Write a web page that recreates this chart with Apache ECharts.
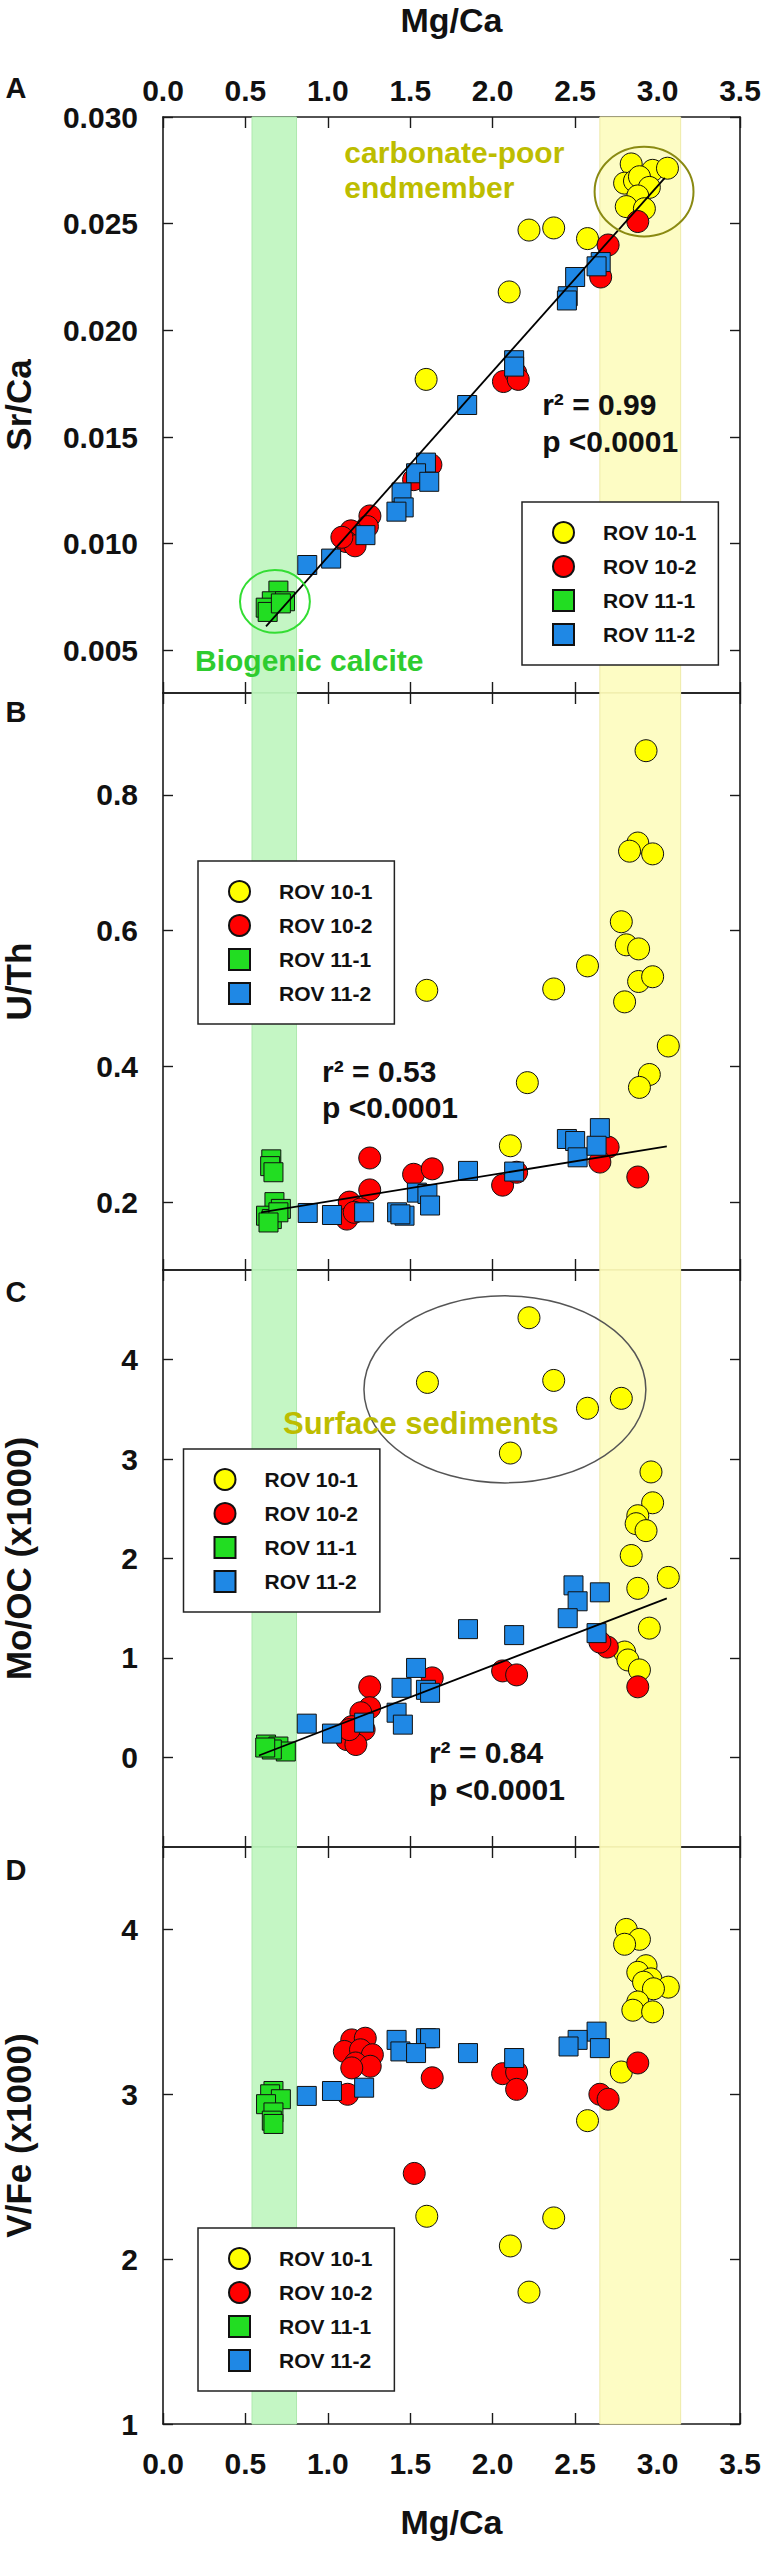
<!DOCTYPE html>
<html>
<head>
<meta charset="utf-8">
<title>Mg/Ca cross plots</title>
<script src="https://cdn.jsdelivr.net/npm/echarts@6.0.0/dist/echarts.min.js"></script>
<style>
html, body { margin: 0; padding: 0; background: #fff; overflow: hidden; }
#main { width: 766px; height: 2550px; }
</style>
</head>
<body>
<div id="main"></div>
<script>
// ---- data (Mg/Ca, ratio) ----
var seriesNames = ['ROV 10-1', 'ROV 10-2', 'ROV 11-1', 'ROV 11-2'];
var panelLetters = ['A', 'B', 'C', 'D'];
var panelNames = ['Sr/Ca', 'U/Th', 'Mo/OC (x1000)', 'V/Fe (x1000)'];
var xTicks = [0, 0.5, 1.0, 1.5, 2.0, 2.5, 3.0, 3.5];
var yTicksSrCa = [0.005, 0.010, 0.015, 0.020, 0.025, 0.030];
var yTicksUTh = [0.2, 0.4, 0.6, 0.8];
var yTicksMoOc = [0, 1, 2, 3, 4];
var yTicksVFe = [1, 2, 3, 4];

var srCa10_1 = [[2.22,0.0247],[2.37,0.0248],[2.575,0.0243],[2.10,0.0218],[1.596,0.0177],
  [2.84,0.0278],[2.97,0.0275],[3.06,0.0276],[2.80,0.0269],[2.86,0.0270],[2.89,0.0272],
  [2.95,0.0267],[2.88,0.0263],[2.81,0.0258],[2.92,0.0257]];
var srCa10_2 = [[2.88,0.0251],[2.70,0.0240],[2.655,0.0225],[2.065,0.0176],[2.14,0.0180],
  [2.155,0.0177],[1.625,0.0137],[1.52,0.0130],[1.255,0.0113],[1.24,0.0108],[1.14,0.0106],
  [1.11,0.0101],[1.165,0.0099],[1.085,0.0103]];
var srCa11_1 = [[0.70,0.0078],[0.66,0.0073],[0.623,0.0070],[0.74,0.0073],[0.635,0.0068],[0.715,0.0072]];
var srCa11_2 = [[2.655,0.0232],[2.63,0.0230],[2.50,0.0225],[2.455,0.0216],[2.45,0.0214],
  [2.13,0.0186],[2.13,0.0183],[1.845,0.0165],[1.595,0.0138],[1.535,0.0133],[1.615,0.0129],
  [1.447,0.0124],[1.46,0.0117],[1.416,0.0115],[1.228,0.0104],[1.02,0.0093],[0.875,0.0090]];

var uTh10_1 = [[2.93,0.865],[2.88,0.729],[2.83,0.717],[2.97,0.713],[2.78,0.613],[2.81,0.579],
  [2.885,0.573],[2.575,0.548],[2.885,0.525],[2.97,0.532],[2.37,0.514],[1.60,0.512],[2.80,0.495],
  [3.065,0.430],[2.95,0.388],[2.89,0.369],[2.21,0.376],[2.107,0.283]];
var uTh10_2 = [[1.254,0.265],[1.254,0.218],[1.52,0.241],[1.633,0.249],[2.06,0.225],[2.145,0.244],
  [2.70,0.281],[2.65,0.259],[2.88,0.237],[1.13,0.200],[1.115,0.175],[1.20,0.190],[1.16,0.185]];
var uTh11_1 = [[0.657,0.263],[0.65,0.253],[0.67,0.244],[0.676,0.200],[0.715,0.190],[0.625,0.180],
  [0.66,0.175],[0.70,0.185],[0.64,0.170]];
var uTh11_2 = [[2.65,0.309],[2.45,0.293],[2.50,0.290],[2.515,0.266],[2.63,0.283],[2.13,0.245],
  [1.85,0.246],[1.54,0.214],[1.604,0.212],[1.62,0.195],[1.42,0.185],[1.465,0.180],[1.22,0.185],
  [1.025,0.181],[0.878,0.184],[1.44,0.182]];

var moOc10_1 = [[2.22,4.42],[1.604,3.77],[2.37,3.79],[2.78,3.61],[2.575,3.51],[2.107,3.06],
  [2.96,2.87],[2.97,2.56],[2.88,2.43],[2.87,2.35],[2.93,2.28],[2.84,2.03],[3.065,1.81],
  [2.88,1.70],[2.95,1.30],[2.80,1.06],[2.82,0.98],[2.89,0.88]];
var moOc10_2 = [[2.88,0.71],[2.695,1.11],[2.65,1.16],[2.06,0.87],[2.145,0.83],[1.633,0.80],
  [1.254,0.71],[1.254,0.50],[1.20,0.45],[1.145,0.31],[1.22,0.28],[1.115,0.18],[1.17,0.13],[1.13,0.28]];
var moOc11_1 = [[0.625,0.13],[0.70,0.11],[0.745,0.06],[0.66,0.08],[0.62,0.10]];
var moOc11_2 = [[2.49,1.73],[2.65,1.66],[2.515,1.57],[2.455,1.40],[2.63,1.25],[1.85,1.29],
  [2.13,1.23],[1.535,0.90],[1.447,0.70],[1.595,0.68],[1.62,0.65],[1.417,0.45],[1.455,0.33],
  [1.22,0.35],[0.872,0.34],[1.025,0.24]];

var vFe10_1 = [[2.81,4.00],[2.89,3.94],[2.80,3.91],[2.93,3.78],[2.88,3.74],[2.96,3.70],
  [2.915,3.68],[3.065,3.65],[2.975,3.64],[2.88,3.56],[2.85,3.51],[2.97,3.50],[2.78,3.135],
  [2.575,2.84],[1.60,2.26],[2.37,2.25],[2.107,2.08],[2.22,1.80]];
var vFe10_2 = [[1.524,2.52],[2.88,3.19],[2.65,3.00],[2.70,2.97],[2.06,3.125],[2.145,3.135],
  [2.145,3.03],[1.633,3.10],[1.145,3.33],[1.227,3.34],[1.10,3.26],[1.198,3.27],[1.27,3.24],
  [1.168,3.19],[1.257,3.17],[1.145,3.16],[1.12,3.00]];
var vFe11_1 = [[0.67,3.02],[0.65,3.00],[0.715,2.97],[0.625,2.94],[0.67,2.89],[0.66,2.84],[0.67,2.82]];
var vFe11_2 = [[2.63,3.38],[2.515,3.33],[2.46,3.29],[2.65,3.28],[2.13,3.22],[1.85,3.25],
  [1.595,3.34],[1.62,3.34],[1.417,3.33],[1.44,3.26],[1.535,3.25],[1.22,3.04],[1.025,3.02],[0.872,2.99]];

// regression lines (end points)
var fitSrCa = [[0.625,0.00612],[3.044,0.02715]];
var fitUTh = [[0.595,0.185],[3.056,0.282]];
var fitMoOc = [[0.582,0.02],[3.056,1.60]];

// shaded Mg/Ca ranges
var biogenicBand = [0.54, 0.81];
var endmemberBand = [2.65, 3.14];

// ---- layout ----
var GRID_LEFT = 163;
var GRID_WIDTH = 577;
var panelTops = [117, 693, 1270, 1847];
var panelHeights = [576, 577, 577, 577];
var yRanges = [[0.003, 0.030], [0.10, 0.95], [-0.9, 4.9], [1, 4.5]];
var yDigits = [3, 1, 0, 0];
var legendPos = [[522, 502], [198, 861], [183.5, 1449], [198, 2228]];
var FONT = '"Liberation Sans", Arial, Helvetica, sans-serif';
var INK = '#111';

var panelData = [
  [srCa10_1, srCa10_2, srCa11_1, srCa11_2],
  [uTh10_1, uTh10_2, uTh11_1, uTh11_2],
  [moOc10_1, moOc10_2, moOc11_1, moOc11_2],
  [vFe10_1, vFe10_2, vFe11_1, vFe11_2]
];
var panelTicks = [yTicksSrCa, yTicksUTh, yTicksMoOc, yTicksVFe];
var panelFits = [fitSrCa, fitUTh, fitMoOc, null];

var markStyles = [
  { symbol: 'circle', size: 22, color: '#ffff00' },
  { symbol: 'circle', size: 22, color: '#ff0000' },
  { symbol: 'rect', size: 19, color: '#22dd22' },
  { symbol: 'rect', size: 19, color: '#1f88e5' }
];

var chart = echarts.init(document.getElementById('main'), null, { renderer: 'svg' });

var option = {
  animation: false,
  backgroundColor: '#fff',
  textStyle: { fontFamily: FONT },
  grid: [], xAxis: [], yAxis: [], series: [], legend: []
};

var lineStyle = { color: '#1a1a1a', width: 1.6 };

for (var i = 0; i < 4; i++) {
  option.grid.push({
    left: GRID_LEFT, width: GRID_WIDTH, top: panelTops[i], height: panelHeights[i],
    outerBoundsMode: 'none'
  });

  ['bottom', 'top'].forEach(function (pos) {
    var showLab = (pos === 'bottom' && i === 3) || (pos === 'top' && i === 0);
    option.xAxis.push({
      type: 'value', gridIndex: i, position: pos, min: 0, max: 3.5, interval: 0.5,
      splitLine: { show: false },
      axisLine: { onZero: false, lineStyle: lineStyle },
      axisTick: { inside: true, length: 11, customValues: xTicks, lineStyle: { color: '#1a1a1a', width: 1.4 } },
      axisLabel: {
        show: showLab, customValues: xTicks, margin: pos === 'top' ? 12 : 24,
        fontSize: 30, fontWeight: 'bold', color: INK,
        formatter: function (v) { return v.toFixed(1); }
      },
      name: showLab ? 'Mg/Ca' : '', nameLocation: 'middle', nameGap: pos === 'top' ? 80 : 81,
      nameTextStyle: { fontSize: 34, fontWeight: 'bold', color: INK }
    });
  });

  (function (idx) {
    ['left', 'right'].forEach(function (pos) {
      option.yAxis.push({
        type: 'value', gridIndex: idx, position: pos,
        min: yRanges[idx][0], max: yRanges[idx][1],
        splitLine: { show: false },
        axisLine: { onZero: false, lineStyle: lineStyle },
        axisTick: { inside: true, length: 10, customValues: panelTicks[idx], lineStyle: { color: '#1a1a1a', width: 1.4 } },
        axisLabel: {
          show: pos === 'left', customValues: panelTicks[idx], margin: 25,
          fontSize: 30, fontWeight: 'bold', color: INK,
          formatter: function (v) { return v.toFixed(yDigits[idx]); }
        },
        name: pos === 'left' ? panelNames[idx] : '', nameLocation: 'middle', nameRotate: 90, nameGap: 127,
        nameTextStyle: { fontSize: 35, fontWeight: 'bold', color: INK }
      });
    });
  })(i);

  // shaded bands
  option.series.push({
    type: 'scatter', xAxisIndex: 2 * i, yAxisIndex: 2 * i, data: [], z: 1, silent: true,
    markArea: {
      silent: true,
      data: [
        [{ xAxis: biogenicBand[0], itemStyle: { color: '#c4f6c4', borderColor: '#aee9ae', borderWidth: 1 } }, { xAxis: biogenicBand[1] }],
        [{ xAxis: endmemberBand[0], itemStyle: { color: '#fdfcc4', borderColor: '#eeeaa8', borderWidth: 1 } }, { xAxis: endmemberBand[1] }]
      ]
    }
  });

  for (var k = 0; k < 4; k++) {
    option.series.push({
      type: 'scatter', name: seriesNames[k], xAxisIndex: 2 * i, yAxisIndex: 2 * i,
      data: panelData[i][k], symbol: markStyles[k].symbol, symbolSize: markStyles[k].size,
      itemStyle: { color: markStyles[k].color, borderColor: INK, borderWidth: 1, opacity: 1 },
      emphasis: { disabled: true }, silent: true, z: 3
    });
  }

  if (panelFits[i]) {
    option.series.push({
      type: 'line', xAxisIndex: 2 * i, yAxisIndex: 2 * i, data: panelFits[i],
      symbol: 'none', lineStyle: { color: '#000', width: 1.8 }, silent: true, z: 5
    });
  }

  option.legend.push({
    left: legendPos[i][0], top: legendPos[i][1], orient: 'vertical',
    itemWidth: 21, itemHeight: 21, itemGap: 11, padding: [19, 22, 19, 30],
    borderColor: '#222', borderWidth: 1.5, backgroundColor: '#fff',
    selectedMode: false, z: 6,
    data: seriesNames.map(function (n, k) { return { name: n, icon: k < 2 ? 'circle' : 'rect' }; }),
    textStyle: { fontSize: 21, fontWeight: 'bold', color: INK, padding: [0, 0, 0, 24] }
  });
}

chart.setOption(option);

// ---- annotations, placed through the axes ----
var ellipses = [
  { panel: 0, cx: 2.918, cy: 0.0265, dx: 0.30, dy: 0.0021, stroke: '#8a8a12', width: 2 },
  { panel: 0, cx: 0.679, cy: 0.00729, dx: 0.212, dy: 0.00147, stroke: '#33dd33', width: 2 },
  { panel: 2, cx: 2.074, cy: 3.70, dx: 0.855, dy: 0.94, stroke: '#555', width: 1.5 }
];
var labels = [
  { panel: 0, x: 1.10, y: 0.02832, text: 'carbonate-poor', color: '#bdbd00', size: 30 },
  { panel: 0, x: 1.10, y: 0.02668, text: 'endmember', color: '#bdbd00', size: 30 },
  { panel: 0, x: 0.194, y: 0.00453, text: 'Biogenic calcite', color: '#2ecc2e', size: 30 },
  { panel: 0, x: 2.30, y: 0.01654, text: 'r² = 0.99', color: INK, size: 30 },
  { panel: 0, x: 2.30, y: 0.01477, text: 'p <0.0001', color: INK, size: 30 },
  { panel: 1, x: 0.965, y: 0.393, text: 'r² = 0.53', color: INK, size: 30 },
  { panel: 1, x: 0.965, y: 0.340, text: 'p <0.0001', color: INK, size: 30 },
  { panel: 2, x: 1.613, y: 0.05, text: 'r² = 0.84', color: INK, size: 30 },
  { panel: 2, x: 1.613, y: -0.32, text: 'p <0.0001', color: INK, size: 30 },
  { panel: 2, x: 0.728, y: 3.36, text: 'Surface sediments', color: '#bdbd00', size: 31 }
];
var letterY = [88, 712, 1292, 1870];

function toPx(panel, x, y) {
  return chart.convertToPixel({ xAxisIndex: 2 * panel, yAxisIndex: 2 * panel }, [x, y]);
}

var graphics = [];
ellipses.forEach(function (e) {
  var c = toPx(e.panel, e.cx, e.cy);
  var p = toPx(e.panel, e.cx + e.dx, e.cy + e.dy);
  graphics.push({
    type: 'ellipse', silent: true, z: 7,
    shape: { cx: c[0], cy: c[1], rx: Math.abs(p[0] - c[0]), ry: Math.abs(p[1] - c[1]) },
    style: { fill: null, stroke: e.stroke, lineWidth: e.width }
  });
});
labels.forEach(function (t) {
  var p = toPx(t.panel, t.x, t.y);
  graphics.push({
    type: 'text', silent: true, z: 8, x: p[0], y: p[1],
    style: {
      text: t.text, fill: t.color, fontSize: t.size, fontWeight: 'bold', fontFamily: FONT,
      textAlign: 'left', textVerticalAlign: 'middle'
    }
  });
});
panelLetters.forEach(function (l, i) {
  graphics.push({
    type: 'text', silent: true, z: 8, x: 16, y: letterY[i],
    style: {
      text: l, fill: INK, fontSize: 29, fontWeight: 'bold', fontFamily: FONT,
      textAlign: 'center', textVerticalAlign: 'middle'
    }
  });
});
chart.setOption({ graphic: graphics });
</script>
</body>
</html>
